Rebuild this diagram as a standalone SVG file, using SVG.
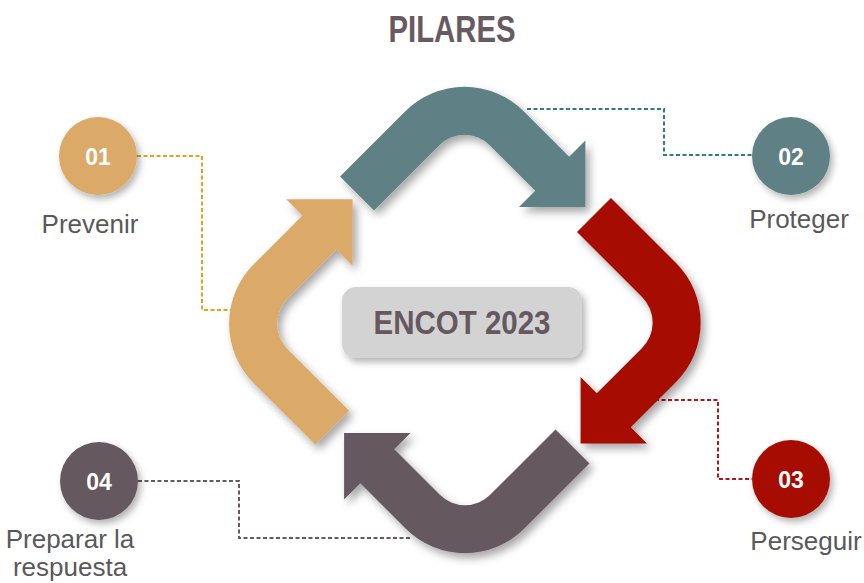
<svg xmlns="http://www.w3.org/2000/svg" width="864" height="583" viewBox="0 0 864 583">
<defs>
<filter id="sh" filterUnits="userSpaceOnUse" x="0" y="0" width="864" height="583">
<feDropShadow dx="4" dy="5" stdDeviation="4" flood-color="#000" flood-opacity="0.35"/>
</filter>
<filter id="shs" filterUnits="userSpaceOnUse" x="0" y="0" width="864" height="583">
<feDropShadow dx="3" dy="4" stdDeviation="3.5" flood-color="#000" flood-opacity="0.3"/>
</filter>
<path id="arrow" d="M -124.47 90.53 L -59.4 25.46 A 84 84 0 0 1 59.4 25.46 L 104.67 70.73 L 120.9 54.5 L 120.9 120.9 L 54.5 120.9 L 70.73 104.67 L 25.46 59.4 A 36 36 0 0 0 -25.46 59.4 L -90.53 124.47 Z"/>
</defs>
<style>
.lbl{font-family:"Liberation Sans",Arial,sans-serif;font-size:26px;fill:#595959;text-anchor:middle}
.num{font-family:"Liberation Sans",Arial,sans-serif;font-size:23px;font-weight:bold;fill:#fff;text-anchor:middle}
.dash{fill:none;stroke-width:2;stroke-dasharray:4 2.5}
</style>
<rect width="864" height="583" fill="#fff"/>
<text x="452" y="42" font-family="'Liberation Sans',Arial,sans-serif" font-size="37" font-weight="bold" fill="#675A61" text-anchor="middle" textLength="127" lengthAdjust="spacingAndGlyphs">PILARES</text>

<g id="connectors">
<polyline class="dash" stroke="#E3A21A" points="137,156 202,156 202,310 231,310"/>
<polyline class="dash" stroke="#2E7B80" points="527,109 664,109 664,155 752,155"/>
<polyline class="dash" stroke="#B0151A" points="655,400 718,400 718,479 752,479"/>
<polyline class="dash" stroke="#66585F" points="138,481 239,481 239,538 410,538"/>
</g>

<g id="arrow-teal" filter="url(#sh)">
<use href="#arrow" transform="translate(464.5,86)" fill="#5F8084"/>
</g>
<g id="arrow-red" filter="url(#sh)">
<use href="#arrow" transform="translate(701.5,322.5) rotate(90)" fill="#A60D04"/>
</g>
<g id="arrow-mauve" filter="url(#sh)">
<use href="#arrow" transform="translate(465,554) rotate(180)" fill="#66585F"/>
</g>
<g id="arrow-gold" filter="url(#sh)">
<path transform="translate(228.25,323.75) rotate(270)" fill="#DBA967" d="M -120.97 87.03 L -59.4 25.46 A 84 84 0 0 1 59.4 25.46 L 108.17 74.23 L 124.4 58 L 124.4 124.4 L 58 124.4 L 74.23 108.17 L 25.46 59.4 A 36 36 0 0 0 -25.46 59.4 L -87.03 120.97 Z"/>
</g>

<g id="center">
<rect x="342" y="287" width="240" height="71" rx="14" fill="#D3D3D3" filter="url(#shs)"/>
<text x="462" y="334" font-family="'Liberation Sans',Arial,sans-serif" font-size="33" font-weight="bold" fill="#66585F" text-anchor="middle" textLength="177" lengthAdjust="spacingAndGlyphs">ENCOT 2023</text>
</g>

<g id="node-01">
<circle cx="98" cy="156" r="39" fill="#DBA967" filter="url(#shs)"/>
<text class="num" x="98" y="165">01</text>
<text class="lbl" x="90" y="233">Prevenir</text>
</g>
<g id="node-02">
<circle cx="791" cy="156" r="39" fill="#5F8084" filter="url(#shs)"/>
<text class="num" x="791" y="165">02</text>
<text class="lbl" x="799" y="228">Proteger</text>
</g>
<g id="node-03">
<circle cx="791" cy="479" r="39" fill="#A60D04" filter="url(#shs)"/>
<text class="num" x="791" y="488">03</text>
<text class="lbl" x="806" y="550">Perseguir</text>
</g>
<g id="node-04">
<circle cx="99" cy="481" r="39" fill="#66585F" filter="url(#shs)"/>
<text class="num" x="99" y="490">04</text>
<text class="lbl" x="70" y="548">Preparar la</text>
<text class="lbl" x="70" y="576">respuesta</text>
</g>
</svg>
